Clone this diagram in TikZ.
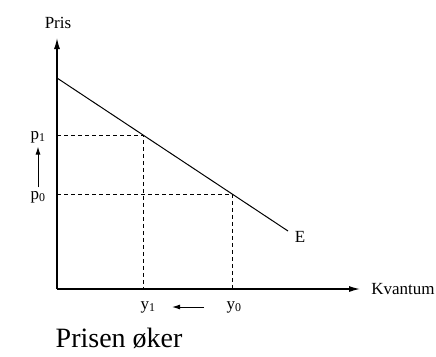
\documentclass[tikz,border=0pt]{standalone}
\usepackage{fontspec}
\setmainfont{Liberation Serif}
\usetikzlibrary{calc, arrows.meta}
\begin{document}
\begin{tikzpicture}[x=1pt, y=-1pt, thick, font=\fontsize{17}{19}\selectfont,
    guide/.style={thin, dash pattern=on 4pt off 3pt},
    axis/.style={line width=1.3pt, -{Latex[length=11pt, width=6pt]}},
    move/.style={line width=1pt, -{Latex[length=8pt, width=5pt]}}]
  \useasboundingbox (0,0) rectangle (436,356);
  \coordinate (O) at (57,289);
  \coordinate (Y) at (57,38);
  \coordinate (X) at (360,289);
  \coordinate (S) at (57,78);
  \coordinate (T) at (288,231);
  \coordinate (A1) at ($(S)!0.372!(T)$);
  \coordinate (A0) at ($(S)!0.757!(T)$);
  \coordinate (B1) at (A1 |- O);
  \coordinate (B0) at (A0 |- O);
  \coordinate (C1) at (A1 -| O);
  \coordinate (C0) at (A0 -| O);
  \draw[axis] (O) -- (Y);
  \draw[axis] (O) -- (X);
  \draw[line width=1pt] (S) -- (T);
  \draw[guide] (C1) -- (A1) -- (B1);
  \draw[guide] (C0) -- (A0) -- (B0);
  \node (pris) at (58,23) {Pris};
  \node[right, inner sep=1pt] (kvantum) at (370,289) {Kvantum};
  \node (E) at (300,237) {E};
  \node (p1) at (38,137) {p\textsubscript{1}};
  \node (p0) at (38,197) {p\textsubscript{0}};
  \node (y1) at (148,307) {y\textsubscript{1}};
  \node (y0) at (234,307) {y\textsubscript{0}};
  \draw[move] (p0.north) -- (p1.south);
  \draw[move, shorten <=30pt, shorten >=24pt] (y0.center) -- (y1.center);
  \node[anchor=west, font=\fontsize{28}{32}\selectfont] (title) at (52,338) {Prisen øker};
\end{tikzpicture}
\end{document}
